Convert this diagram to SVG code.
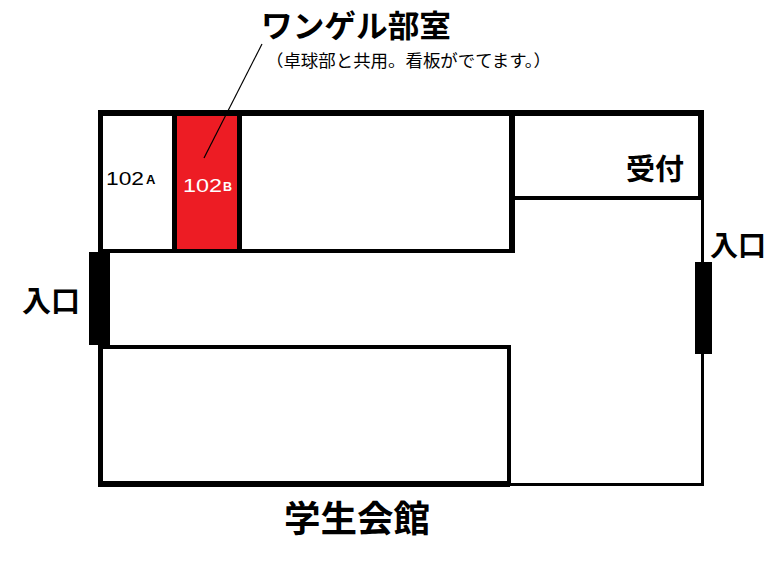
<svg xmlns="http://www.w3.org/2000/svg" width="768" height="576" viewBox="0 0 768 576">
<style>
.w{fill:#000}
text{font-family:"Noto Sans CJK JP","Liberation Sans",sans-serif;fill:#000}
.b{font-weight:700}
.n{font-family:"Liberation Sans",sans-serif}
.r{fill:#fff}
</style>
<rect width="768" height="576" fill="#fff"/>
<g id="room-102b"><rect x="175" y="114" width="64" height="137" fill="#ed1c24"/></g>
<g id="walls">
<rect class="w" x="98" y="110" width="606" height="6"/>
<rect class="w" x="98" y="110" width="5" height="377"/>
<rect class="w" x="698" y="110" width="6" height="90"/>
<rect class="w" x="701" y="198" width="3" height="288"/>
<rect class="w" x="172" y="112" width="5" height="140"/>
<rect class="w" x="237" y="112" width="5" height="140"/>
<rect class="w" x="98" y="249" width="415" height="4"/>
<rect class="w" x="509" y="112" width="6" height="141"/>
<rect class="w" x="512" y="196" width="190" height="4"/>
<rect class="w" x="98" y="345" width="413" height="4"/>
<rect class="w" x="507" y="345" width="4" height="141"/>
<rect class="w" x="98" y="481" width="412" height="6"/>
<rect class="w" x="508" y="483" width="196" height="3"/>
</g>
<g id="door-left"><rect class="w" x="89" y="252" width="21" height="93"/></g>
<g id="door-right"><rect class="w" x="695" y="262" width="17" height="92"/></g>
<g id="connectors"><line x1="262" y1="44" x2="204" y2="158" stroke="#000" stroke-width="1.2"/></g>
<g id="labels">
<text class="b" x="261" y="37" font-size="31" textLength="190" lengthAdjust="spacingAndGlyphs">ワンゲル部室</text>
<text x="266" y="67" font-size="16.5" textLength="285" lengthAdjust="spacingAndGlyphs">（卓球部と共用。看板がでてます。）</text>
<text class="n" x="106" y="185" font-size="18" textLength="38" lengthAdjust="spacingAndGlyphs">102</text>
<text class="n b" x="146" y="184" font-size="13">A</text>
<text class="n r" x="183" y="192" font-size="18" textLength="39" lengthAdjust="spacingAndGlyphs">102</text>
<text class="n b r" x="223" y="191" font-size="12.5">B</text>
<text class="b" x="626" y="180" font-size="29">受付</text>
<text class="b" x="710" y="256" font-size="28">入口</text>
<text class="b" x="22" y="312" font-size="29">入口</text>
<text class="b" x="284" y="532" font-size="36.5">学生会館</text>
</g>
</svg>
